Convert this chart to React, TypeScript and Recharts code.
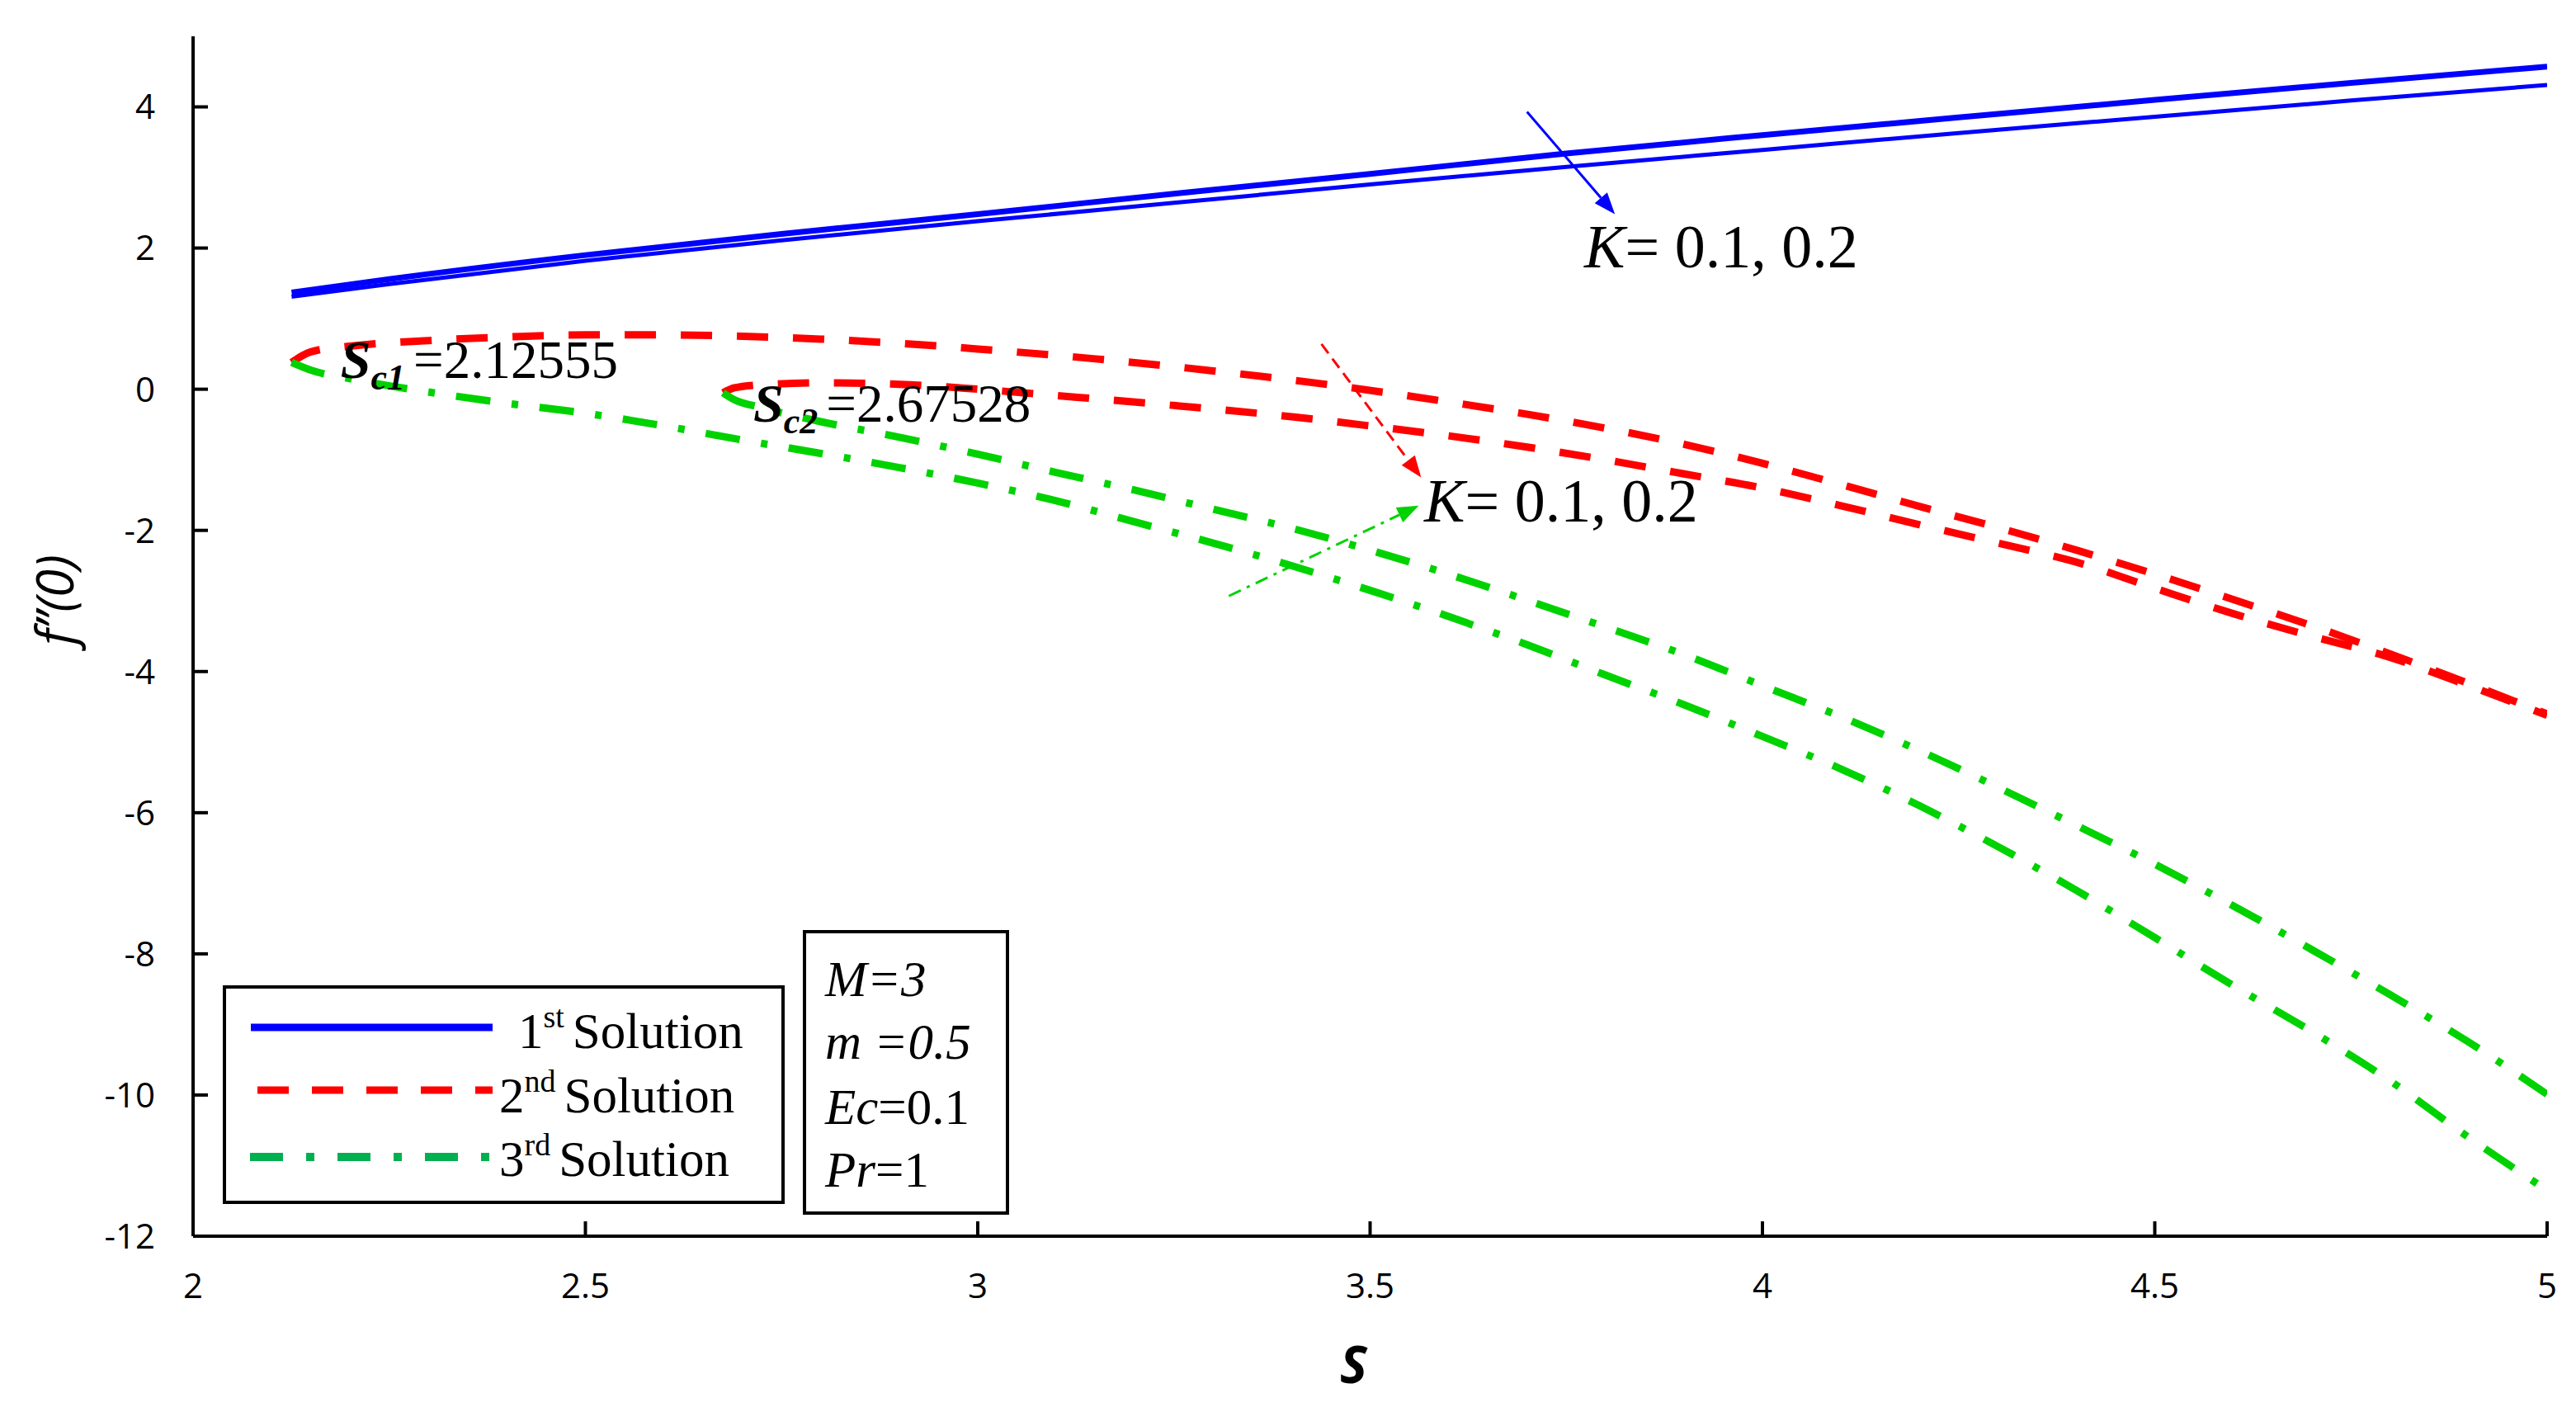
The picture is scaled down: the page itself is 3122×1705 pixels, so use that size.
import { LineChart, Line, XAxis, YAxis, ReferenceLine, ReferenceDot, Legend, Label } from "recharts";

// S axis and f''(0) axis ticks
const S_TICKS = [2, 2.5, 3, 3.5, 4, 4.5, 5];
const F_TICKS = [-12, -10, -8, -6, -4, -2, 0, 2, 4];

// 1st solution (blue), K = 0.1 / 0.2
const blueS = [2.12555, 2.25, 2.5, 2.75, 3.0, 3.25, 3.5, 3.75, 4.0, 4.25, 4.5, 4.75, 5.0];
const blueK1 = [1.37, 1.56, 1.9, 2.2, 2.48, 2.77, 3.05, 3.34, 3.6, 3.85, 4.1, 4.34, 4.57];
const blueK2 = [1.31, 1.49, 1.82, 2.11, 2.38, 2.64, 2.9, 3.15, 3.39, 3.63, 3.86, 4.09, 4.31];

// 2nd solution (red)
const redK1S = [2.12555, 2.15, 2.2, 2.3, 2.4, 2.5, 2.6, 2.7, 2.8, 2.9, 3.0, 3.15, 3.3, 3.45, 3.6, 3.75, 3.9, 4.0, 4.1, 4.2, 4.3, 4.4, 4.5, 4.6, 4.7, 4.8, 4.9, 5.0];
const redK1 = [0.38, 0.53, 0.61, 0.69, 0.74, 0.77, 0.77, 0.75, 0.71, 0.65, 0.57, 0.43, 0.26, 0.06, -0.18, -0.45, -0.78, -1.05, -1.35, -1.66, -1.96, -2.28, -2.62, -2.98, -3.35, -3.75, -4.17, -4.6];
const redK2S = [2.67528, 2.69, 2.72, 2.8, 2.9, 3.0, 3.1, 3.25, 3.4, 3.5, 3.6, 3.7, 3.8, 3.9, 4.0, 4.1, 4.2, 4.3, 4.4, 4.5, 4.6, 4.7, 4.8, 4.9, 5.0];
const redK2 = [-0.05, 0.02, 0.06, 0.09, 0.07, 0.0, -0.09, -0.23, -0.39, -0.52, -0.66, -0.82, -1.0, -1.2, -1.4, -1.65, -1.92, -2.18, -2.45, -2.82, -3.18, -3.5, -3.8, -4.2, -4.62];

// 3rd solution (green)
const greenK1S = [2.12555, 2.15, 2.2, 2.3, 2.4, 2.5, 2.6, 2.7, 2.8, 2.9, 3.0, 3.1, 3.2, 3.3, 3.4, 3.5, 3.6, 3.7, 3.8, 3.9, 4.0, 4.1, 4.2, 4.3, 4.4, 4.5, 4.6, 4.7, 4.8, 4.9, 5.0];
const greenK1 = [0.38, 0.27, 0.15, -0.04, -0.2, -0.34, -0.52, -0.72, -0.91, -1.11, -1.33, -1.58, -1.88, -2.18, -2.5, -2.85, -3.22, -3.62, -4.05, -4.47, -4.92, -5.38, -5.9, -6.48, -7.1, -7.77, -8.45, -9.1, -9.8, -10.6, -11.35];
const greenK2S = [2.67528, 2.69, 2.72, 2.8, 2.9, 3.0, 3.1, 3.2, 3.3, 3.4, 3.5, 3.6, 3.7, 3.8, 3.9, 4.0, 4.1, 4.2, 4.3, 4.4, 4.5, 4.6, 4.7, 4.8, 4.9, 5.0];
const greenK2 = [-0.05, -0.15, -0.25, -0.46, -0.68, -0.92, -1.18, -1.43, -1.7, -1.97, -2.28, -2.62, -2.99, -3.37, -3.76, -4.2, -4.64, -5.12, -5.64, -6.18, -6.73, -7.32, -7.94, -8.58, -9.25, -9.99];

// annotations (data coordinates)
const K_LABEL = "0.1, 0.2";
const SC_NAMES = ["c1", "c2"];
const SC_VALUES = ["2.12555", "2.67528"];
const SC_POS = [[2.188, 0.16], [2.714, -0.46]];

// legend / parameter box text
const LEGEND_NUM = ["1", "2", "3"];
const LEGEND_SUP = ["st", "nd", "rd"];
const LEGEND_WORD = "Solution";
const PARAM_NAMES = ["M", "m ", "Ec", "Pr"];
const PARAM_VALUES = ["=3", "=0.5", "=0.1", "=1"];
const PARAM_VALUE_ITALIC = [true, true, false, false];

const BLUE = "#0000FF";
const RED = "#FF0000";
const GREEN = "#00D200";
const SERIF = "'Liberation Serif', 'Times New Roman', serif";
const SANS = "'Open Sans', 'Noto Sans', sans-serif";

const toRows = (s: number[], f: number[]) => s.map((x, i) => ({ s: x, f: f[i] }));

const arrow = (color: string, dash: string | undefined, width: number) => (p: any) => {
  const { x1, y1, x2, y2 } = p;
  const a = Math.atan2(y2 - y1, x2 - x1);
  const len = 26;
  const half = 10;
  const bx = x2 - len * Math.cos(a);
  const by = y2 - len * Math.sin(a);
  const pts = `${x2},${y2} ${bx + half * Math.sin(a)},${by - half * Math.cos(a)} ${bx - half * Math.sin(a)},${by + half * Math.cos(a)}`;
  return (
    <g>
      <line x1={x1} y1={y1} x2={bx} y2={by} stroke={color} strokeWidth={width} strokeDasharray={dash} />
      <polygon points={pts} fill={color} />
    </g>
  );
};

const kText = (p: any) => (
  <text x={p.cx} y={p.cy} fontFamily={SERIF} fontSize={74} fill="#000">
    <tspan fontStyle="italic">K</tspan>
    <tspan>{"= " + K_LABEL}</tspan>
  </text>
);

const scText = (i: number) => (p: any) => (
  <text x={p.cx} y={p.cy} fontFamily={SERIF} fill="#000">
    <tspan fontSize={66} fontWeight="bold" fontStyle="italic">S</tspan>
    <tspan fontSize={44} fontWeight="bold" fontStyle="italic" dy={14}>{SC_NAMES[i]}</tspan>
    <tspan fontSize={65} dy={-14} dx={10}>{"=" + SC_VALUES[i]}</tspan>
  </text>
);

const LegendBox = () => (
  <svg width={681} height={265} style={{ display: "block" }}>
    <rect x={2} y={2} width={677} height={261} fill="#fff" stroke="#000" strokeWidth={4} />
    <line x1={34} x2={327} y1={51} y2={51} stroke={BLUE} strokeWidth={9} />
    <line x1={42} x2={327} y1={127} y2={127} stroke={RED} strokeWidth={9} strokeDasharray="38 28" />
    <line x1={33} x2={327} y1={208} y2={208} stroke="#00B050" strokeWidth={10} strokeDasharray="40 28 10 28" />
    {LEGEND_NUM.map((n, i) => (
      <text key={n} x={i === 0 ? 358 : 335} y={[76, 154, 231][i]} fontFamily={SERIF} fontSize={61} fill="#000">
        <tspan>{n}</tspan>
        <tspan fontSize={38} dy={-25}>{LEGEND_SUP[i]}</tspan>
        <tspan dy={25} dx={10}>{LEGEND_WORD}</tspan>
      </text>
    ))}
  </svg>
);

export default function App() {
  return (
    <div style={{ position: "absolute", left: 0, top: 0, width: 3122, height: 1705, background: "#fff" }}>
      <LineChart width={3122} height={1705} margin={{ top: 44, right: 35, bottom: 147, left: 0 }}>
        <XAxis
          dataKey="s"
          type="number"
          domain={[2, 5]}
          ticks={S_TICKS}
          allowDataOverflow
          height={60}
          tickSize={-18}
          tickMargin={63}
          axisLine={{ stroke: "#000", strokeWidth: 4 }}
          tickLine={{ stroke: "#000", strokeWidth: 4 }}
          tick={{ fill: "#000", fontSize: 42, fontFamily: SANS }}
        >
          <Label
            value="S"
            position="bottom"
            offset={74}
            dx={-20}
            style={{ fontFamily: SANS, fontSize: 62, fontWeight: "bold", fontStyle: "italic", fill: "#000" }}
          />
        </XAxis>
        <XAxis xAxisId="top" orientation="top" type="number" domain={[2, 5]} height={0} tick={false} tickLine={false} axisLine={{ stroke: "#000", strokeWidth: 4 }} />
        <YAxis
          type="number"
          domain={[-12, 5]}
          ticks={F_TICKS}
          allowDataOverflow
          width={234}
          tickSize={-18}
          tickMargin={64}
          axisLine={{ stroke: "#000", strokeWidth: 4 }}
          tickLine={{ stroke: "#000", strokeWidth: 4 }}
          tick={{ fill: "#000", fontSize: 42, fontFamily: SANS }}
        >
          <Label
            content={(p: any) => {
              const vb = p.viewBox;
              const cx = vb.x + 65;
              const cy = vb.y + vb.height / 2 - 44;
              return (
                <text x={cx} y={cy} transform={`rotate(-90, ${cx}, ${cy})`} textAnchor="middle" dominantBaseline="central" fontFamily={SANS} fontSize={62} fontStyle="italic" fill="#000">
                  f’’(0)
                </text>
              );
            }}
          />
        </YAxis>
        <YAxis yAxisId="right" orientation="right" type="number" domain={[-12, 5]} width={0} tick={false} tickLine={false} axisLine={{ stroke: "#000", strokeWidth: 4 }} />

        <Line data={toRows(blueS, blueK1)} dataKey="f" type="monotone" stroke={BLUE} strokeWidth={7} dot={false} activeDot={false} isAnimationActive={false} />
        <Line data={toRows(blueS, blueK2)} dataKey="f" type="monotone" stroke={BLUE} strokeWidth={5} dot={false} activeDot={false} isAnimationActive={false} />
        <Line data={toRows(redK1S, redK1)} dataKey="f" type="monotone" stroke={RED} strokeWidth={9} strokeDasharray="38 30" dot={false} activeDot={false} isAnimationActive={false} />
        <Line data={toRows(redK2S, redK2)} dataKey="f" type="monotone" stroke={RED} strokeWidth={9} strokeDasharray="38 30" dot={false} activeDot={false} isAnimationActive={false} />
        <Line data={toRows(greenK1S, greenK1)} dataKey="f" type="monotone" stroke={GREEN} strokeWidth={9} strokeDasharray="42 26 8 26" dot={false} activeDot={false} isAnimationActive={false} />
        <Line data={toRows(greenK2S, greenK2)} dataKey="f" type="monotone" stroke={GREEN} strokeWidth={9} strokeDasharray="42 26 8 26" dot={false} activeDot={false} isAnimationActive={false} />

        <ReferenceLine segment={[{ x: 3.7, y: 3.93 }, { x: 3.812, y: 2.48 }]} shape={arrow(BLUE, undefined, 3)} />
        <ReferenceLine segment={[{ x: 3.438, y: 0.64 }, { x: 3.565, y: -1.25 }]} shape={arrow(RED, "14 8", 3)} />
        <ReferenceLine segment={[{ x: 3.32, y: -2.93 }, { x: 3.562, y: -1.65 }]} shape={arrow(GREEN, "16 8 4 8", 3)} />

        <ReferenceDot x={3.773} y={1.73} r={0} shape={kText} />
        <ReferenceDot x={3.569} y={-1.87} r={0} shape={kText} />
        <ReferenceDot x={SC_POS[0][0]} y={SC_POS[0][1]} r={0} shape={scText(0)} />
        <ReferenceDot x={SC_POS[1][0]} y={SC_POS[1][1]} r={0} shape={scText(1)} />

        <Legend
          layout="vertical"
          align="center"
          verticalAlign="middle"
          content={() => <LegendBox />}
          wrapperStyle={{ position: "absolute", left: 270, top: 1194, width: 681, height: 265 }}
        />
      </LineChart>

      <svg width={250} height={345} style={{ position: "absolute", left: 973, top: 1127 }}>
        <rect x={2} y={2} width={246} height={341} fill="#fff" stroke="#000" strokeWidth={4} />
        {PARAM_NAMES.map((n, i) => (
          <text key={n} x={27} y={[80, 156, 235, 311][i]} fontFamily={SERIF} fontSize={61} fill="#000">
            <tspan fontStyle="italic">{n}</tspan>
            <tspan fontStyle={PARAM_VALUE_ITALIC[i] ? "italic" : "normal"}>{PARAM_VALUES[i]}</tspan>
          </text>
        ))}
      </svg>
    </div>
  );
}
